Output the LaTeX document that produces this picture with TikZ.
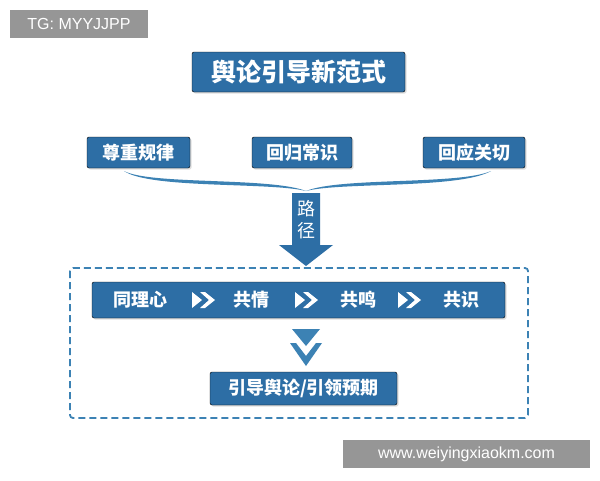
\documentclass[tikz,border=0pt]{standalone}
\usepackage{fontspec}
\setmainfont{Liberation Sans}
\newfontfamily\cjk{Noto Sans CJK SC}
\usetikzlibrary{shadows}
\definecolor{bluebox}{RGB}{45,110,165}
\definecolor{lineblue}{RGB}{60,130,180}
\definecolor{markgray}{RGB}{150,150,150}
\tikzset{
  blk/.style={fill=bluebox,rounded corners=2pt,drop shadow={shadow xshift=1.5pt,shadow yshift=-1.5pt,fill=gray!50}},
  lbl/.style={text=white,font=\cjk\bfseries\fontsize{18}{18}\selectfont},
  wmark/.style={fill=markgray,text=white,font=\fontsize{16}{16}\selectfont,inner sep=0pt}
}
\newcommand{\fwd}[2]{%
  \fill[white] (#1-11,#2-8) -- (#1-1,#2) -- (#1-11,#2+8) -- cycle;
  \fill[white] (#1-3,#2-8) -- (#1+2,#2-8) -- (#1+12,#2) -- (#1+2,#2+8) -- (#1-3,#2+8) -- (#1+6,#2) -- cycle;
}
\begin{document}
\begin{tikzpicture}[x=1pt,y=-1pt]
\useasboundingbox[fill=white] (0,0) rectangle (600,480);

\node[wmark,minimum width=138,minimum height=28] (tg) at (79,24) {TG: MYYJJPP};

% title
\draw[blk] (192,52) rectangle (405,92);
\node[lbl,font=\cjk\bfseries\fontsize{25}{25}\selectfont] (title) at (298.5,72) {舆论引导新范式};

% three principles
\draw[blk] (87,137) rectangle (190,168);
\node[lbl] (p1) at (138.5,152.5) {尊重规律};
\draw[blk] (252,137) rectangle (352,168);
\node[lbl] (p2) at (302,152.5) {回归常识};
\draw[blk] (423,137) rectangle (525,168);
\node[lbl] (p3) at (474,152.5) {回应关切};

% brace
\coordinate (bl) at (124,171);
\coordinate (bm) at (306,191);
\coordinate (br) at (491,171);
\fill[lineblue] (bl) .. controls (150,185) and (270,177) .. (bm)
  .. controls (340,177) and (460,185) .. (br)
  .. controls (460,189) and (340,182) .. (bm)
  .. controls (270,182) and (150,189) .. (bl) -- cycle;

% path arrow
\fill[bluebox] (292,193) -- (320,193) -- (320,245) -- (333,245) -- (306,266)
  -- (279,245) -- (292,245) -- cycle;
\node[lbl,align=center,font=\cjk\fontsize{18}{22}\selectfont] (road) at (306,220) {路\\径};

% dashed frame
\draw[lineblue,line width=1.8pt,dash pattern=on 7pt off 4pt,rounded corners=3pt] (70,268) rectangle (528,418);

% process bar
\draw[blk] (92,282) rectangle (505,318);
\node[lbl] (s1) at (140,300) {同理心};
\fwd{203}{300}
\node[lbl] (s2) at (251,300) {共情};
\fwd{306}{300}
\node[lbl] (s3) at (358,300) {共鸣};
\fwd{409}{300}
\node[lbl] (s4) at (461,300) {共识};

% double chevron
\fill[lineblue] (292,329) -- (320,329) -- (306,346) -- cycle;
\fill[lineblue] (290,343) -- (296,343) -- (306,356) -- (316,343) -- (322,343) -- (306,366) -- cycle;

% result
\draw[blk] (210,372) rectangle (397,405);
\node[lbl] (res) at (303.5,388.5) {引导舆论/引领预期};

\node[wmark,minimum width=247,minimum height=28] (www) at (466.5,454) {www.weiyingxiaokm.com};
\end{tikzpicture}
\end{document}
